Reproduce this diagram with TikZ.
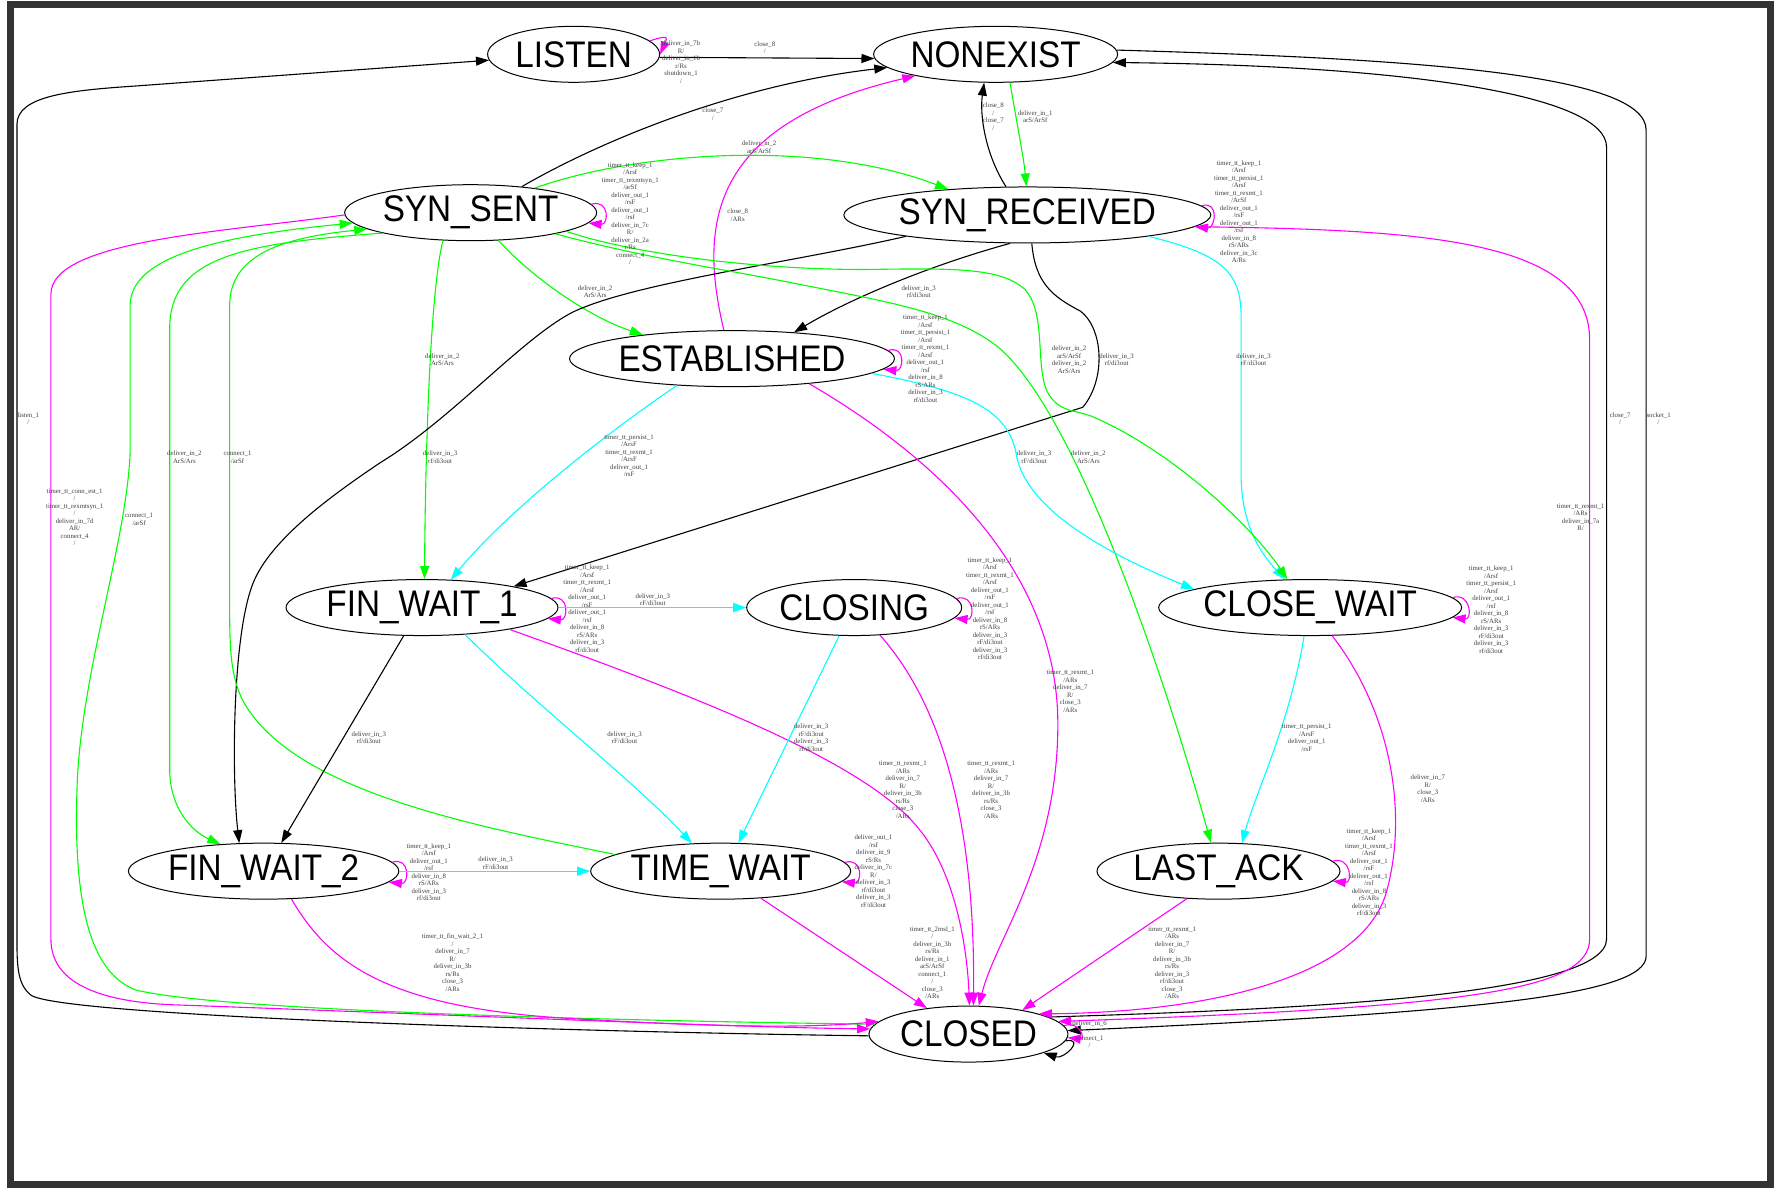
\documentclass[tikz,border=0pt]{standalone}
\usepackage{fontspec}
\usepackage{graphicx}
\usetikzlibrary{shapes.geometric,arrows.meta}
\newfontfamily\statefont{Liberation Sans}
\newfontfamily\labelfont{Liberation Serif}
\definecolor{gvgreen}{RGB}{0,255,0}
\definecolor{gvcyan}{RGB}{0,255,255}
\definecolor{gvmag}{RGB}{255,0,255}
\definecolor{framegray}{RGB}{51,51,51}
\definecolor{lblgray}{RGB}{64,64,64}
\newcommand{\stname}[1]{\scalebox{0.9}[1]{#1}}
\tikzset{
  state/.style={ellipse, draw, line width=1pt, inner sep=0pt, minimum height=56pt,
    font=\fontsize{37}{40}\selectfont\statefont},
  lbl/.style={align=center, inner sep=0pt, text=lblgray,
    font=\fontsize{6.8}{7.5}\selectfont\labelfont},
  conn/.style={line width=1.1pt, -{Triangle[length=13pt,width=9pt]}},
  blk/.style={conn, draw=black},
  grn/.style={conn, draw=gvgreen},
  cyn/.style={conn, draw=gvcyan},
  mgt/.style={conn, draw=gvmag},
}
\begin{document}
\begin{tikzpicture}[x=1.1314pt,y=-1.1314pt]
\useasboundingbox (0,0) rectangle (1568,1051);
\fill[white] (0,0) rectangle (1568,1051);

% states
\node[state, minimum width=172pt] (LI) at (507,48) {\stname{LISTEN}};
\node[state, minimum width=244pt] (NE) at (880,48) {\stname{NONEXIST}};
\node[state, minimum width=252pt] (SS) at (416,188) {\stname{SYN\_SENT}};
\node[state, minimum width=367pt] (SR) at (908,190) {\stname{SYN\_RECEIVED}};
\node[state, minimum width=325pt] (ES) at (647,317) {\stname{ESTABLISHED}};
\node[state, minimum width=272pt] (F1) at (373,537) {\stname{FIN\_WAIT\_1}};
\node[state, minimum width=215pt] (CG) at (755,537) {\stname{CLOSING}};
\node[state, minimum width=303pt] (CW) at (1158,537) {\stname{CLOSE\_WAIT}};
\node[state, minimum width=270pt] (F2) at (233,770) {\stname{FIN\_WAIT\_2}};
\node[state, minimum width=260pt] (TW) at (637,770) {\stname{TIME\_WAIT}};
\node[state, minimum width=243pt] (LA) at (1077,770) {\stname{LAST\_ACK}};
\node[state, minimum width=199pt] (CL) at (856,914) {\stname{CLOSED}};

% edges
\draw[blk] (LI.-2) -- (NE.182);
\draw[mgt] (LI.10) .. controls +(18,-6) and +(6,-14) .. (LI.0);
\draw[blk] (SS.27) .. controls (530,125) and (650,75) .. (NE.187);
\draw[mgt] (ES.106) .. controls (618,200) and (625,110) .. (NE.195);
\draw[blk] (SR.127) .. controls (870,135) and (866,100) .. (NE.248);
\draw[grn] (NE.297) .. controls (898,105) and (905,140) .. (SR.92);
\draw[grn] (SS.21) .. controls (560,135) and (720,122) .. (SR.162);
\draw[mgt] (SS.4) .. controls +(16,-5) and +(18,2) .. (SS.-5);
\draw[mgt] (SR.3) .. controls +(16,-5) and +(18,2) .. (SR.-4);
\draw[grn] (SS.-45) .. controls (470,245) and (520,280) .. (ES.165);
\draw[blk] (SR.239) .. controls (820,235) and (750,265) .. (ES.23);
\draw[grn] (SS.225) .. controls (380,260) and (376,400) .. (F1.85);
\draw[blk] (SR.-81) .. controls (915,250) and (930,262) .. (955,275)
  .. controls (975,290) and (978,335) .. (957,360) -- (F1.13);
\draw[blk] (SR.190) .. controls (700,232) and (560,250) .. (506,276)
  .. controls (460,300) and (400,370) .. (336,409)
  .. controls (290,440) and (235,480) .. (222,520)
  .. controls (205,570) and (205,690) .. (F2.131);
\draw[grn] (SS.193) .. controls (220,215) and (150,225) .. (150,290) -- (150,680)
  .. controls (150,715) and (170,735) .. (F2.148);
\draw[grn] (TW.171) .. controls (420,730) and (260,700) .. (215,620)
  .. controls (205,600) and (203,580) .. (203,540) -- (203,270)
  .. controls (203,225) and (250,210) .. (SS.189);
\draw[grn] (CL.174) .. controls (600,903) and (200,895) .. (120,875)
  .. controls (80,860) and (65,800) .. (68,700)
  .. controls (70,600) and (112,480) .. (115,400) -- (115,270)
  .. controls (115,225) and (200,208) .. (SS.185);
\draw[mgt] (SS.181) .. controls (200,205) and (45,212) .. (45,260) -- (45,830)
  .. controls (45,870) and (90,885) .. (150,888)
  .. controls (400,897) and (650,908) .. (CL.177);
\draw[blk] (CL.181) .. controls (500,912) and (60,898) .. (28,880)
  .. controls (14,870) and (15,850) .. (15,820) -- (15,110)
  .. controls (15,85) and (60,80) .. (120,76) -- (LI.184);
\draw[blk] (CL.12) .. controls (1150,892) and (1420,880) .. (1420,830) -- (1420,130)
  .. controls (1420,85) and (1250,58) .. (NE.-4);
\draw[blk] (NE.2) .. controls (1250,52) and (1455,65) .. (1455,115) -- (1455,845)
  .. controls (1455,880) and (1300,895) .. (CL.2);
\draw[mgt] (CL.5) .. controls +(14,-5) and +(16,2) .. (CL.-2);
\draw[blk] (CL.-4) .. controls +(18,-3) and +(18,6) .. (CL.-14);
\draw[mgt] (SR.-4) .. controls (1250,203) and (1405,210) .. (1405,300) -- (1405,830)
  .. controls (1405,875) and (1300,890) .. (CL.8);
\draw[cyn] (SR.-10) .. controls (1080,225) and (1097,240) .. (1097,280) -- (1097,420)
  .. controls (1097,470) and (1120,495) .. (CW.132);
\draw[grn] (SS.-11) .. controls (560,225) and (680,240) .. (780,238)
  .. controls (850,237) and (885,238) .. (905,255)
  .. controls (925,275) and (915,320) .. (925,345)
  .. controls (935,365) and (950,362) .. (965,368)
  .. controls (1040,400) and (1110,470) .. (CW.129);
\draw[grn] (SS.-14) .. controls (570,228) and (640,238) .. (700,250)
  .. controls (780,266) and (840,275) .. (880,305)
  .. controls (950,360) and (1030,600) .. (LA.105);
\draw[mgt] (ES.3) .. controls +(16,-5) and +(18,2) .. (ES.-4);
\draw[cyn] (ES.206) .. controls (540,380) and (450,450) .. (F1.44);
\draw[cyn] (ES.-6) .. controls (850,345) and (890,360) .. (898,400)
  .. controls (905,450) and (980,490) .. (CW.171);
\draw[mgt] (ES.-18) .. controls (820,400) and (935,500) .. (935,640)
  .. controls (935,760) and (880,830) .. (CL.70);
\draw[mgt] (F1.4) .. controls +(16,-5) and +(18,2) .. (F1.-5);
\draw[cyn] (F1.0) -- (CG.180);
\draw[blk] (F1.237) -- (F2.58);
\draw[cyn] (F1.-32) .. controls (470,620) and (560,690) .. (TW.136);
\draw[mgt] (F1.-14) .. controls (600,610) and (760,670) .. (810,730)
  .. controls (845,770) and (855,840) .. (CL.88);
\draw[mgt] (CG.5) .. controls +(16,-5) and +(18,2) .. (CG.-6);
\draw[cyn] (CG.242) -- (TW.58);
\draw[mgt] (CG.-47) .. controls (830,620) and (862,720) .. (CL.80);
\draw[mgt] (CW.4) .. controls +(16,-5) and +(18,2) .. (CW.-4);
\draw[cyn] (CW.258) .. controls (1140,640) and (1110,700) .. (LA.50);
\draw[mgt] (CW.-52) .. controls (1230,630) and (1245,720) .. (1225,790)
  .. controls (1200,870) and (1050,895) .. (CL.16);
\draw[mgt] (F2.4) .. controls +(16,-5) and +(18,2) .. (F2.-5);
\draw[cyn] (F2.0) -- (TW.180);
\draw[mgt] (F2.-45) .. controls (290,850) and (340,890) .. (500,900)
  .. controls (600,906) and (700,910) .. (CL.172);
\draw[mgt] (TW.4) .. controls +(16,-5) and +(18,2) .. (TW.-5);
\draw[mgt] (TW.-34) -- (CL.148);
\draw[mgt] (LA.5) .. controls +(16,-5) and +(18,2) .. (LA.-5);
\draw[mgt] (LA.221) -- (CL.24);

% labels
\node[lbl] (l1) at (676,42) {close\_8\\/};
\node[lbl] (l2) at (602,55) {deliver\_in\_7b\\R/\\deliver\_in\_1b\\r/Rs\\shutdown\_1\\/};
\node[lbl] (l3) at (630,101) {close\_7\\/};
\node[lbl] (l4) at (652,190) {close\_8\\/ARs};
\node[lbl] (l5) at (878,103) {close\_8\\/\\close\_7\\/};
\node[lbl] (l6) at (915,103) {deliver\_in\_1\\arS/ArSf};
\node[lbl] (l7) at (671,130) {deliver\_in\_2\\arS/ArSf};
\node[lbl] (l8) at (557,189) {timer\_tt\_keep\_1\\/Arsf\\timer\_tt\_rexmtsyn\_1\\/arSf\\deliver\_out\_1\\/rsF\\deliver\_out\_1\\/rsf\\deliver\_in\_7c\\R/\\deliver\_in\_2a\\r/Rs\\connect\_4\\/};
\node[lbl] (l9) at (1095,187) {timer\_tt\_keep\_1\\/Arsf\\timer\_tt\_persist\_1\\/Arsf\\timer\_tt\_rexmt\_1\\/ArSf\\deliver\_out\_1\\/rsF\\deliver\_out\_1\\/rsf\\deliver\_in\_8\\rS/ARs\\deliver\_in\_3c\\A/Rs};
\node[lbl] (l10) at (526,258) {deliver\_in\_2\\ArS/Ars};
\node[lbl] (l11) at (812,258) {deliver\_in\_3\\rf/di3out};
\node[lbl] (l12) at (391,318) {deliver\_in\_2\\ArS/Ars};
\node[lbl] (l13) at (987,318) {deliver\_in\_3\\rf/di3out};
\node[lbl] (l14) at (389,404) {deliver\_in\_3\\rf/di3out};
\node[lbl] (l15) at (163,404) {deliver\_in\_2\\ArS/Ars};
\node[lbl] (l16) at (210,404) {connect\_1\\/arSf};
\node[lbl] (l17) at (123,459) {connect\_1\\/arSf};
\node[lbl] (l18) at (66,457) {timer\_tt\_conn\_est\_1\\/\\timer\_tt\_rexmtsyn\_1\\/\\deliver\_in\_7d\\AR/\\connect\_4\\/};
\node[lbl] (l19) at (25,370) {listen\_1\\/};
\node[lbl] (l20) at (1432,370) {close\_7\\/};
\node[lbl] (l21) at (1466,370) {socket\_1\\/};
\node[lbl] (l22) at (963,914) {deliver\_in\_6\\/\\connect\_1\\/};
\node[lbl] (l23) at (1397,457) {timer\_tt\_rexmt\_1\\/ARs\\deliver\_in\_7a\\R/};
\node[lbl] (l24) at (1108,318) {deliver\_in\_3\\rF/di3out};
\node[lbl] (l25) at (945,318) {deliver\_in\_2\\arS/ArSf\\deliver\_in\_2\\ArS/Ars};
\node[lbl] (l26) at (962,404) {deliver\_in\_2\\ArS/Ars};
\node[lbl] (l27) at (818,317) {timer\_tt\_keep\_1\\/Arsf\\timer\_tt\_persist\_1\\/Arsf\\timer\_tt\_rexmt\_1\\/Arsf\\deliver\_out\_1\\/rsf\\deliver\_in\_8\\rS/ARs\\deliver\_in\_3\\rf/di3out};
\node[lbl] (l28) at (556,403) {timer\_tt\_persist\_1\\/ArsF\\timer\_tt\_rexmt\_1\\/ArsF\\deliver\_out\_1\\/rsF};
\node[lbl] (l29) at (914,404) {deliver\_in\_3\\rF/di3out};
\node[lbl] (l30) at (946,611) {timer\_tt\_rexmt\_1\\/ARs\\deliver\_in\_7\\R/\\close\_3\\/ARs};
\node[lbl] (l31) at (519,538) {timer\_tt\_keep\_1\\/Arsf\\timer\_tt\_rexmt\_1\\/Arsf\\deliver\_out\_1\\/rsF\\deliver\_out\_1\\/rsf\\deliver\_in\_8\\rS/ARs\\deliver\_in\_3\\rf/di3out};
\node[lbl] (l32) at (577,530) {deliver\_in\_3\\rF/di3out};
\node[lbl] (l33) at (326,652) {deliver\_in\_3\\rf/di3out};
\node[lbl] (l34) at (552,652) {deliver\_in\_3\\rF/di3out};
\node[lbl] (l35) at (798,698) {timer\_tt\_rexmt\_1\\/ARs\\deliver\_in\_7\\R/\\deliver\_in\_3b\\rs/Rs\\close\_3\\/ARs};
\node[lbl] (l36) at (875,538) {timer\_tt\_keep\_1\\/Arsf\\timer\_tt\_rexmt\_1\\/Arsf\\deliver\_out\_1\\/rsF\\deliver\_out\_1\\/rsf\\deliver\_in\_8\\rS/ARs\\deliver\_in\_3\\rF/di3out\\deliver\_in\_3\\rf/di3out};
\node[lbl] (l37) at (717,652) {deliver\_in\_3\\rF/di3out\\deliver\_in\_3\\rf/di3out};
\node[lbl] (l38) at (876,698) {timer\_tt\_rexmt\_1\\/ARs\\deliver\_in\_7\\R/\\deliver\_in\_3b\\rs/Rs\\close\_3\\/ARs};
\node[lbl] (l39) at (1318,539) {timer\_tt\_keep\_1\\/Arsf\\timer\_tt\_persist\_1\\/Arsf\\deliver\_out\_1\\/rsf\\deliver\_in\_8\\rS/ARs\\deliver\_in\_3\\rF/di3out\\deliver\_in\_3\\rf/di3out};
\node[lbl] (l40) at (1155,652) {timer\_tt\_persist\_1\\/ArsF\\deliver\_out\_1\\/rsF};
\node[lbl] (l41) at (1262,697) {deliver\_in\_7\\R/\\close\_3\\/ARs};
\node[lbl] (l42) at (379,771) {timer\_tt\_keep\_1\\/Arsf\\deliver\_out\_1\\/rsf\\deliver\_in\_8\\rS/ARs\\deliver\_in\_3\\rf/di3out};
\node[lbl] (l43) at (438,763) {deliver\_in\_3\\rF/di3out};
\node[lbl] (l44) at (400,851) {timer\_tt\_fin\_wait\_2\_1\\/\\deliver\_in\_7\\R/\\deliver\_in\_3b\\rs/Rs\\close\_3\\/ARs};
\node[lbl] (l45) at (772,770) {deliver\_out\_1\\/rsf\\deliver\_in\_9\\rS/Rs\\deliver\_in\_7c\\R/\\deliver\_in\_3\\rf/di3out\\deliver\_in\_3\\rF/di3out};
\node[lbl] (l46) at (824,851) {timer\_tt\_2msl\_1\\/\\deliver\_in\_3b\\rs/Rs\\deliver\_in\_1\\arS/ArSf\\connect\_1\\/\\close\_3\\/ARs};
\node[lbl] (l47) at (1210,771) {timer\_tt\_keep\_1\\/Arsf\\timer\_tt\_rexmt\_1\\/Arsf\\deliver\_out\_1\\/rsF\\deliver\_out\_1\\/rsf\\deliver\_in\_8\\rS/ARs\\deliver\_in\_3\\rf/di3out};
\node[lbl] (l48) at (1036,851) {timer\_tt\_rexmt\_1\\/ARs\\deliver\_in\_7\\R/\\deliver\_in\_3b\\rs/Rs\\deliver\_in\_3\\rf/di3out\\close\_3\\/ARs};

% frame
\draw[framegray, line width=7pt] (9,4) rectangle (1565,1047);
\end{tikzpicture}
\end{document}
